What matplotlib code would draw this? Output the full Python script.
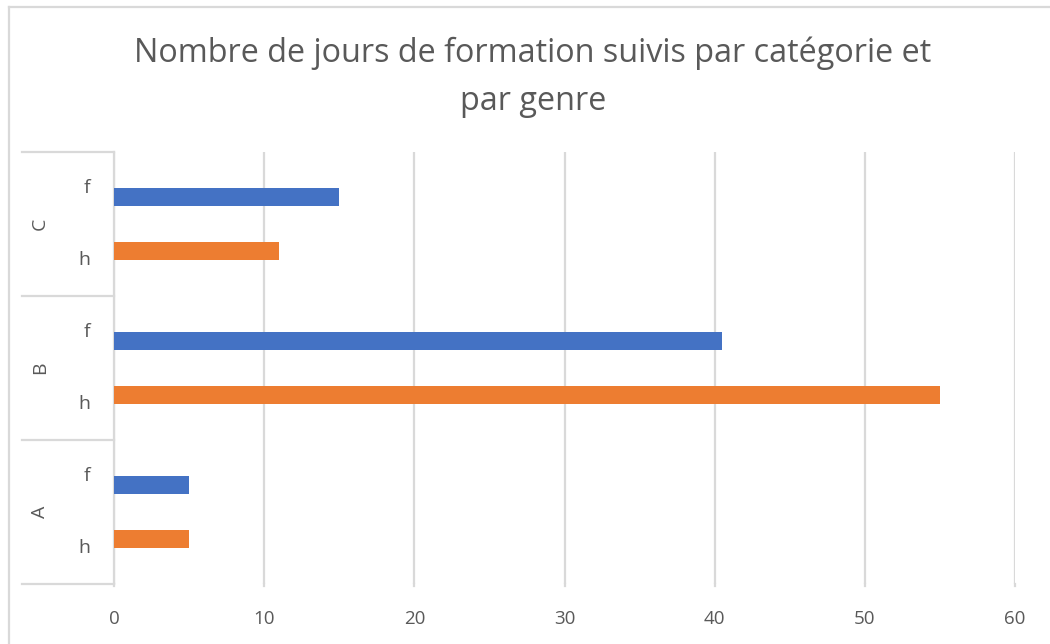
import matplotlib.pyplot as plt
from matplotlib.lines import Line2D

plt.rcParams['font.family'] = ['Open Sans', 'DejaVu Sans']

# data, bottom to top as drawn
categories = ['A', 'B', 'C']
genres = ['h', 'f']
valeurs_h = [5, 55, 11]
valeurs_f = [5, 40.5, 15]

BLUE = '#4472c4'
ORANGE = '#ed7d31'
GREY = '#595959'
GRID = '#d9d9d9'

W, H = 1050, 644
fig = plt.figure(figsize=(W / 100, H / 100), dpi=100)

left, right, top, bottom = 114, 1015, 152, 584
ax = fig.add_axes([left / W, 1 - bottom / H, (right - left) / W, (bottom - top) / H])

# each category spans two slots; bars sit a bit closer to the category centre
centres = [2 * i + 0.5 for i in range(len(categories))]
off = 0.375
ax.barh([c - off for c in centres], valeurs_h, height=0.25, color=ORANGE, zorder=3)
ax.barh([c + off for c in centres], valeurs_f, height=0.25, color=BLUE, zorder=3)

ax.set_xlim(0, 60)
ax.set_ylim(-0.5, 2 * len(categories) - 0.5)
ax.set_xticks(range(0, 61, 10))
ax.xaxis.grid(True, color=GRID, linewidth=1.6, zorder=0)
ax.tick_params(axis='x', length=0, labelsize=13.5, labelcolor=GREY, pad=19)
ax.set_yticks([])
for s in ['top', 'right', 'bottom']:
    ax.spines[s].set_visible(False)
ax.spines['left'].set_color(GRID)
ax.spines['left'].set_linewidth(1.6)

# small ticks below the plot area
for v in range(0, 61, 10):
    ax.plot([v, v], [-0.5, -0.53], color=GRID, lw=1.6, clip_on=False)

# hierarchical category axis
tr = ax.get_yaxis_transform()
for i, cat in enumerate(categories):
    ax.text(-0.082, centres[i], cat, transform=tr, rotation=90, ha='center',
            va='center', fontsize=14, color=GREY)
    for j, g in enumerate(genres):
        ax.text(-0.026, 2 * i + j, g, transform=tr, ha='right', va='center',
                fontsize=14, color=GREY)
for b in [-0.5, 1.5, 3.5, 5.5]:
    ax.plot([-(114 - 22) / (right - left), 0], [b, b], transform=tr, color=GRID,
            lw=1.6, clip_on=False)

fig.suptitle('Nombre de jours de formation suivis par catégorie et\npar genre',
             x=533 / W, y=1 - 36 / H, va='top', fontsize=23.3, color=GREY,
             linespacing=1.6)

# chart frame
fig.add_artist(Line2D([9 / W, 9 / W], [0, 1 - 7 / H], color=GRID, lw=1.6))
fig.add_artist(Line2D([9 / W, 1], [1 - 7 / H, 1 - 7 / H], color=GRID, lw=1.6))

fig.savefig('out.png', dpi=100)
